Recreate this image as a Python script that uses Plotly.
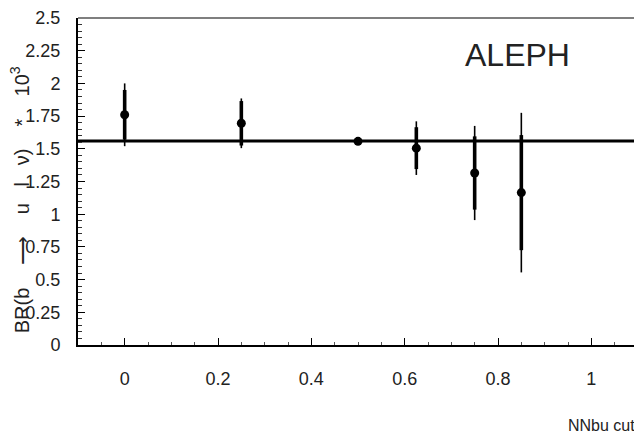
import plotly.graph_objects as go

# ---- data ----
nn_cut = [0.0, 0.25, 0.5, 0.625, 0.75, 0.85]
br_value = [1.76, 1.695, 1.557, 1.505, 1.315, 1.165]
err_stat = [0.19, 0.17, 0.015, 0.16, 0.28, 0.44]
err_total = [0.24, 0.19, 0.02, 0.205, 0.36, 0.61]
br_mean = 1.56

x_ticks = [0, 0.2, 0.4, 0.6, 0.8, 1.0]
x_tick_text = ["0", "0.2", "0.4", "0.6", "0.8", "1"]
y_ticks = [0, 0.25, 0.5, 0.75, 1, 1.25, 1.5, 1.75, 2, 2.25, 2.5]
y_tick_text = ["0", "0.25", "0.5", "0.75", "1", "1.25", "1.5", "1.75", "2", "2.25", "2.5"]
x_range = [-0.1, 1.1]
y_range = [0, 2.5]

FONT = "Liberation Sans, Arial, sans-serif"

fig = go.Figure()

# mean line
fig.add_trace(go.Scatter(
    x=x_range, y=[br_mean, br_mean], mode="lines",
    line=dict(color="black", width=3), showlegend=False, hoverinfo="skip"))

# total error (thin)
fig.add_trace(go.Scatter(
    x=nn_cut, y=br_value, mode="markers",
    marker=dict(size=1, color="rgba(0,0,0,0)"),
    error_y=dict(type="data", array=err_total, color="black", thickness=1.6, width=0),
    showlegend=False, hoverinfo="skip"))

# stat error (thick) + points
fig.add_trace(go.Scatter(
    x=nn_cut, y=br_value, mode="markers",
    marker=dict(size=9, color="black", symbol="circle"),
    error_y=dict(type="data", array=err_stat, color="black", thickness=3.6, width=0),
    showlegend=False))

# page body has an 8px default margin; size the figure so it fits the 642x445 window
fig.update_layout(
    width=634, height=429,
    margin=dict(l=70, r=4, t=10, b=92),
    paper_bgcolor="white", plot_bgcolor="white",
    font=dict(family=FONT, color="black"),
    showlegend=False,
    xaxis=dict(
        range=x_range, tickvals=x_ticks, ticktext=x_tick_text,
        automargin=False,
        showgrid=False, zeroline=False,
        showline=True, linecolor="black", linewidth=2,
        ticks="inside", ticklen=7, tickwidth=1.2, tickcolor="black",
        minor=dict(dtick=0.05, tick0=0, ticks="inside", ticklen=3, tickwidth=1, tickcolor="#555"),
        tickfont=dict(family=FONT, size=18, color="#222"),
        ticklabelstandoff=16,
    ),
    yaxis=dict(
        range=y_range, tickvals=y_ticks, ticktext=y_tick_text,
        automargin=False,
        showgrid=False, zeroline=False,
        showline=True, linecolor="black", linewidth=2,
        ticks="inside", ticklen=7, tickwidth=1.2, tickcolor="black",
        minor=dict(dtick=0.05, tick0=0, ticks="inside", ticklen=4, tickwidth=1, tickcolor="#333"),
        tickfont=dict(family=FONT, size=18, color="#222"),
        ticklabelstandoff=12,
    ),
    shapes=[
        dict(type="line", xref="paper", yref="paper", x0=0, x1=1, y0=1, y1=1,
             line=dict(color="#555", width=1.5)),
        dict(type="line", xref="paper", yref="paper", x0=1, x1=1, y0=0, y1=1,
             line=dict(color="#555", width=1.5)),
    ],
    annotations=[
        dict(text="ALEPH", xref="paper", yref="paper", x=0.784, y=0.887,
             showarrow=False, font=dict(family=FONT, size=32, color="#222"),
             xanchor="center", yanchor="middle"),
        dict(text="NNbu cut", xref="paper", yref="paper", x=0.998, y=-0.245,
             showarrow=False, font=dict(family=FONT, size=16, color="#222"),
             xanchor="right", yanchor="middle"),
        dict(text="BR(b    \u27f6    u   l   \u03bd)    *    10<sup>3</sup>", xref="paper", yref="paper",
             x=-0.104, y=0.445, textangle=-90, showarrow=False,
             font=dict(family=FONT, size=20, color="#222"),
             xanchor="center", yanchor="middle"),
    ],
)

fig.write_html("out.html")
